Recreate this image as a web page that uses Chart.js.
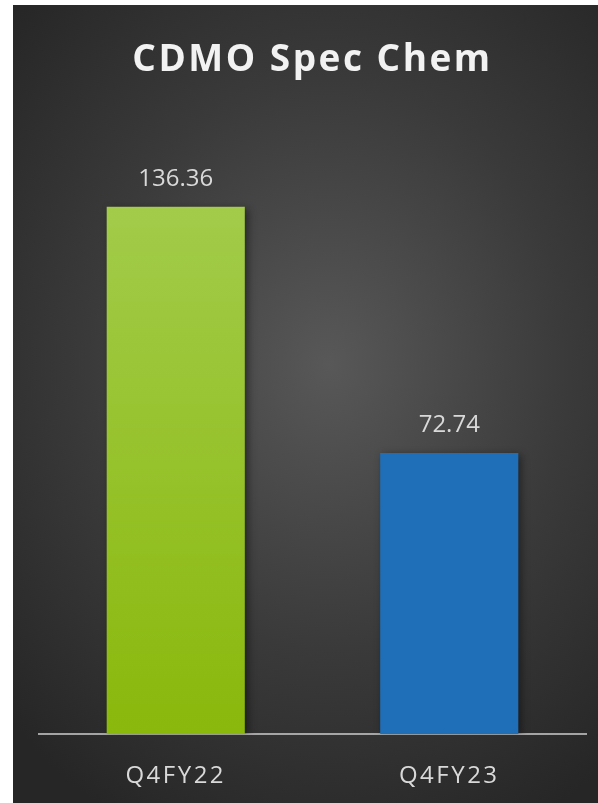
<!DOCTYPE html>
<html>
<head>
<meta charset="utf-8">
<script src="https://cdn.jsdelivr.net/npm/chart.js@4"></script>
<style>
  body { margin: 0; background: #fff; }
  #panel {
    position: absolute; left: 13px; top: 5px; width: 585px; height: 798px;
    background: radial-gradient(ellipse 75% 65% at 54% 45%, #585858 0%, #3a3a3a 55%, #262626 100%);
  }
</style>
</head>
<body>
<div id="panel"><canvas id="specChart"></canvas></div>
<script>
const titleText = 'CDMO Spec Chem';
const quarters = ['Q4FY22', 'Q4FY23'];
const revenue = [136.36, 72.74];

const labelFont = '"Open Sans", "Noto Sans", sans-serif';

// green bar fades from light top to darker bottom, second bar is flat blue
function barFill(context) {
    const chart = context.chart;
    const area = chart.chartArea;
    if (context.dataIndex === 1) return '#1f6fb8';
    if (!area) return '#94c11f';
    const g = chart.ctx.createLinearGradient(0, area.top, 0, area.bottom);
    g.addColorStop(0, '#a6cf55');
    g.addColorStop(1, '#8ab80b');
    return g;
}

// spaced-out title, shadow under bars, value above each bar
const decorations = {
    id: 'decorations',
    beforeDraw(chart) {
        chart.ctx.letterSpacing = '2.5px';
    },
    beforeDatasetsDraw(chart) {
        const ctx = chart.ctx;
        ctx.letterSpacing = '0px';
        ctx.save();
        ctx.shadowColor = 'rgba(0,0,0,0.45)';
        ctx.shadowBlur = 8;
        ctx.shadowOffsetX = 3;
        ctx.shadowOffsetY = 2;
    },
    afterDatasetsDraw(chart) {
        const ctx = chart.ctx;
        ctx.restore();
        ctx.save();
        ctx.fillStyle = '#d9d9d9';
        ctx.font = '24px ' + labelFont;
        ctx.textAlign = 'center';
        ctx.textBaseline = 'bottom';
        chart.getDatasetMeta(0).data.forEach((bar, i) => {
            ctx.fillText(revenue[i].toFixed(2), bar.x, bar.y - 16);
        });
        ctx.restore();
    }
};

new Chart('specChart', {
    type: 'bar',
    data: {
        labels: quarters,
        datasets: [{
            data: revenue,
            backgroundColor: barFill,
            borderWidth: 0,
            barPercentage: 1,
            categoryPercentage: 0.505
        }]
    },
    options: {
        responsive: true,
        maintainAspectRatio: false,
        animation: false,
        layout: { padding: { left: 26, right: 12, top: 22, bottom: -16 } },
        plugins: {
            legend: { display: false },
            tooltip: { enabled: false },
            title: {
                display: true,
                text: titleText,
                color: '#f2f2f2',
                font: { family: labelFont, size: 37, weight: 'bold' },
                padding: { top: 11, bottom: 33 }
            }
        },
        scales: {
            x: {
                z: 1,
                grid: { display: false, drawTicks: false },
                border: { display: true, color: 'rgba(205,205,205,0.75)', width: 2 },
                ticks: {
                    color: '#d9d9d9',
                    padding: 28,
                    font: { family: labelFont, size: 24 }
                }
            },
            y: {
                display: false,
                min: 0,
                max: 160
            }
        }
    },
    plugins: [decorations]
});
</script>
</body>
</html>
